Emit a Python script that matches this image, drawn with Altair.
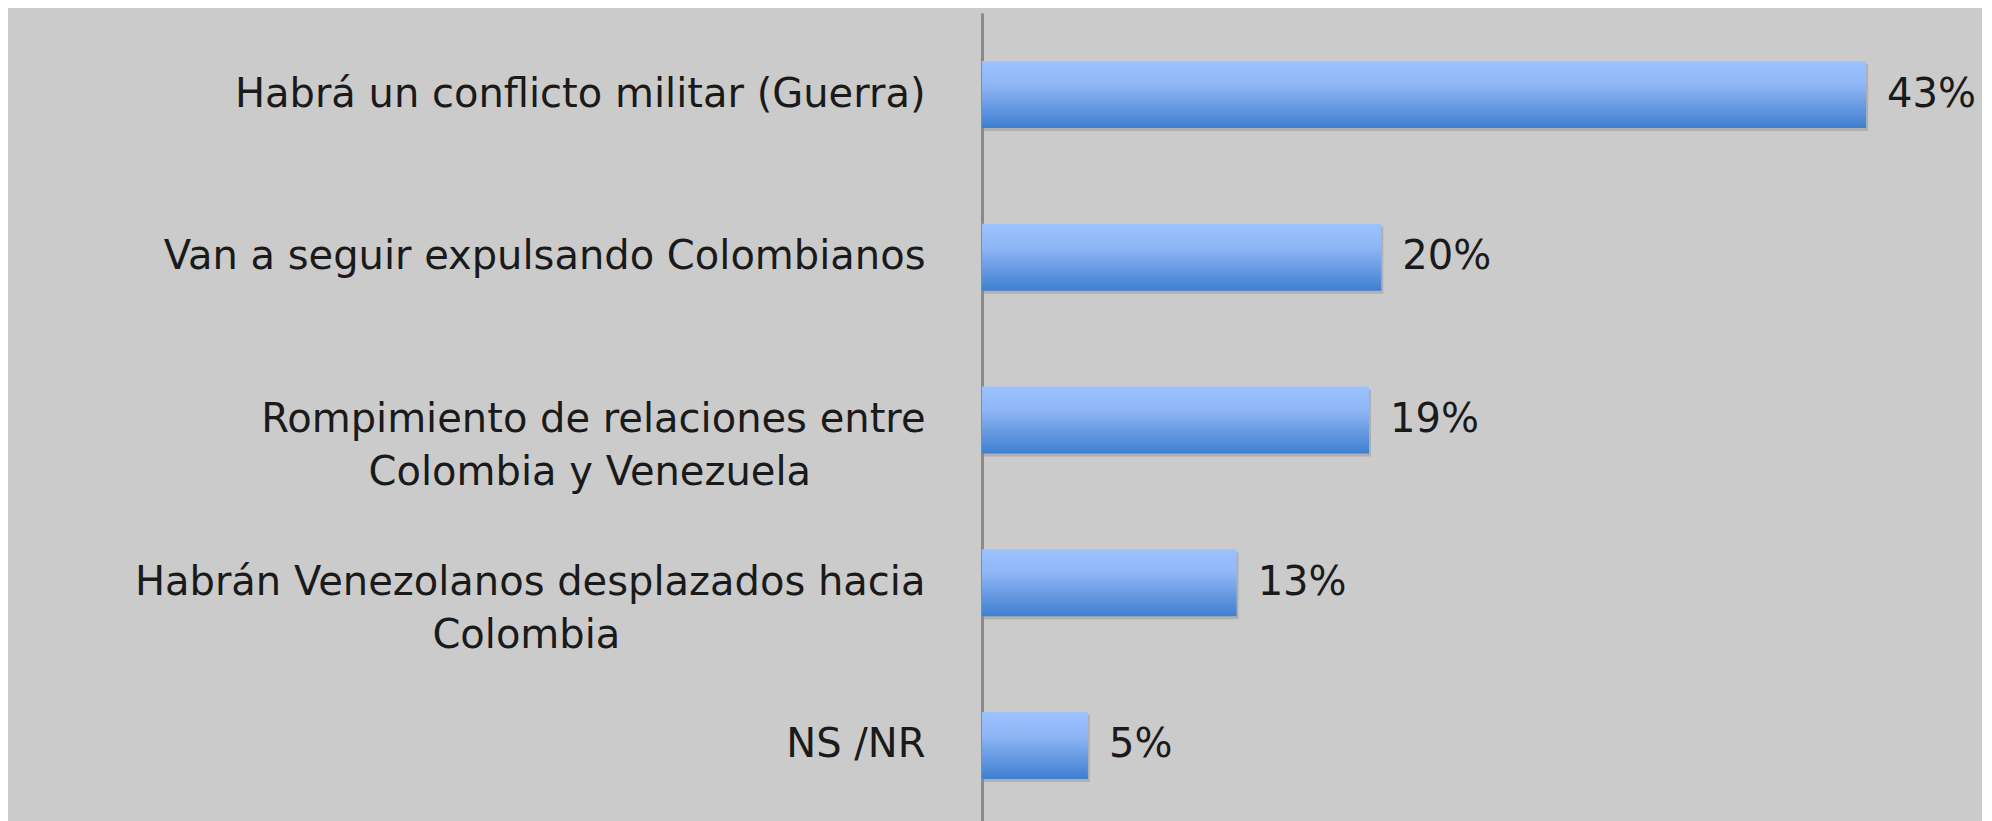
import altair as alt
import pandas as pd

PAD = "\u00a0"
END = "\u200d"
categories = [
    "Habrá un conflicto militar (Guerra)",
    "Van a seguir expulsando Colombianos",
    "Rompimiento de relaciones entre|Colombia y Venezuela" + PAD * 9 + END,
    "Habrán Venezolanos desplazados hacia|Colombia" + PAD * 24 + END,
    "NS /NR",
]
values = [43.4, 19.6, 19.0, 12.5, 5.2]
labels = ["43%", "20%", "19%", "13%", "5%"]

df = pd.DataFrame({"cat": categories, "val": values, "lab": labels})

FONT = "DejaVu Sans"
FS = 40

grad = alt.Gradient(
    gradient="linear",
    stops=[
        alt.GradientStop(color="#9cc2ff", offset=0),
        alt.GradientStop(color="#8fb6f6", offset=0.35),
        alt.GradientStop(color="#3f7fd0", offset=1),
    ],
    x1=0, x2=0, y1=0, y2=1,
)

y = alt.Y(
    "cat:N",
    sort=categories,
    title=None,
    scale=alt.Scale(paddingInner=0.588, paddingOuter=0.295),
    axis=alt.Axis(
        ticks=False,
        domain=True,
        domainColor="#8a8a8a",
        domainWidth=3,
        labelFont=FONT,
        labelFontSize=FS,
        labelColor="#1a1a1a",
        labelPadding=57,
        labelLimit=2000,
        labelAlign="right",
        labelLineHeight=53,
        labelExpr="split(datum.label, '|')",
    ),
)
x = alt.X(
    "val:Q",
    title=None,
    scale=alt.Scale(domain=[0, 49.09], nice=False),
    axis=None,
)

shadow = alt.Chart(df).mark_bar(
    color="#000000", opacity=0.13, xOffset=2, yOffset=3
).encode(x=x, y=y)

bars = alt.Chart(df).mark_bar(color=grad).encode(x=x, y=y)

text = alt.Chart(df).mark_text(
    align="left", baseline="middle", dx=21, font=FONT, fontSize=FS, color="#1a1a1a"
).encode(x=x, y=y, text="lab:N")

chart = (
    alt.layer(shadow, bars, text)
    .properties(
        width=1000,
        height=814,
        background="#cbcbcb",
        autosize=alt.AutoSizeParams(type="none"),
        padding={"left": 974, "top": 5, "right": 0, "bottom": 0},
    )
    .configure_view(stroke=None)
)

chart.save("out.html", embed_options={"renderer": "svg", "actions": False})
